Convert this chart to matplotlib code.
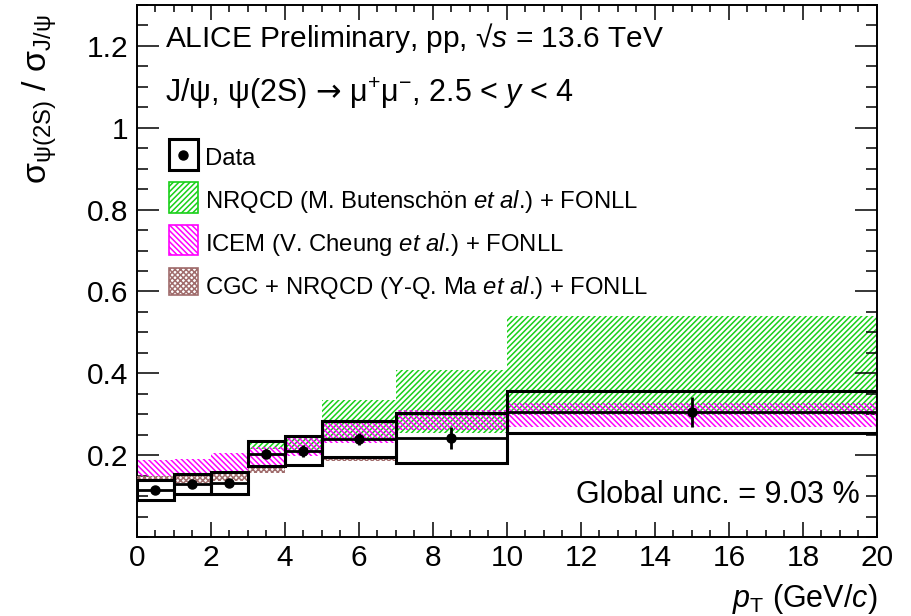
import numpy as np
import matplotlib
matplotlib.use("Agg")
import matplotlib.pyplot as plt
from matplotlib.patches import Rectangle
from matplotlib.lines import Line2D
from matplotlib.ticker import MultipleLocator, FixedLocator, FixedFormatter

plt.rcParams['font.family'] = ['Liberation Sans', 'DejaVu Sans']
plt.rcParams['mathtext.fontset'] = 'custom'
plt.rcParams['mathtext.rm'] = 'Liberation Sans'
plt.rcParams['mathtext.it'] = 'Liberation Sans:italic'
plt.rcParams['mathtext.bf'] = 'Liberation Sans:bold'
plt.rcParams['mathtext.sf'] = 'DejaVu Sans'
plt.rcParams['hatch.linewidth'] = 1.1

# ---------------- data ----------------
bin_lo = [0, 1, 2, 3, 4, 5, 7, 10]
bin_hi = [1, 2, 3, 4, 5, 7, 10, 20]
ratio = [0.115, 0.129, 0.132, 0.204, 0.211, 0.240, 0.242, 0.305]
stat_err = [0.006, 0.006, 0.006, 0.010, 0.015, 0.014, 0.026, 0.036]
syst_err = [0.025, 0.025, 0.026, 0.031, 0.036, 0.044, 0.061, 0.052]

nrqcd_lo_edge = [3, 4, 5, 7, 10]
nrqcd_hi_edge = [4, 5, 7, 10, 20]
nrqcd_low = [0.215, 0.207, 0.238, 0.255, 0.298]
nrqcd_high = [0.236, 0.250, 0.334, 0.409, 0.541]

icem_low = [0.148, 0.152, 0.157, 0.173, 0.197, 0.230, 0.262, 0.270]
icem_high = [0.187, 0.191, 0.205, 0.220, 0.248, 0.285, 0.311, 0.328]

cgc_lo_edge = [0, 1, 2, 3, 4, 5]
cgc_hi_edge = [1, 2, 3, 4, 5, 7]
cgc_low = [0.140, 0.132, 0.138, 0.157, 0.170, 0.185]
cgc_high = [0.150, 0.152, 0.157, 0.172, 0.177, 0.192]

x_ticks = [0, 2, 4, 6, 8, 10, 12, 14, 16, 18, 20]
y_ticks = [0.2, 0.4, 0.6, 0.8, 1.0, 1.2]
y_tick_labels = ['0.2', '0.4', '0.6', '0.8', '1', '1.2']

green = '#18d018'
magenta = '#ff00ff'
brown = '#a06c6c'

W, H = 912, 616
fig = plt.figure(figsize=(W / 100, H / 100), dpi=100)
ax = fig.add_axes([137 / W, 1 - 537 / H, 740 / W, 532 / H])

def fx(px):
    return px / W

def fy(py):
    return 1 - py / H

def band(lo_e, hi_e, low, high, color, hatch, z):
    lo_e = np.array(lo_e, float); hi_e = np.array(hi_e, float)
    low = np.array(low); high = np.array(high)
    ax.bar(lo_e, high - low, width=hi_e - lo_e, bottom=low, align='edge',
           fill=False, hatch=hatch, edgecolor=color, linewidth=0, zorder=z)

band(nrqcd_lo_edge, nrqcd_hi_edge, nrqcd_low, nrqcd_high, green, '//////', 1)
band(bin_lo, bin_hi, icem_low, icem_high, magenta, '\\\\\\\\\\\\', 2)
band(cgc_lo_edge, cgc_hi_edge, cgc_low, cgc_high, brown, 'xxxxxx', 3)

lo = np.array(bin_lo, float); hi = np.array(bin_hi, float)
r = np.array(ratio); st = np.array(stat_err); sy = np.array(syst_err)
cen = 0.5 * (lo + hi)
ax.bar(lo, 2 * sy, width=hi - lo, bottom=r - sy, align='edge', fill=False,
       edgecolor='black', linewidth=2.2, zorder=4)
ax.errorbar(cen, r, xerr=0.5 * (hi - lo), yerr=st, fmt='o', color='black',
            ms=6.5, elinewidth=2.0, capsize=0, zorder=5)

ax.set_xlim(0, 20)
ax.set_ylim(0, 1.3)
ax.xaxis.set_major_locator(FixedLocator(x_ticks))
ax.xaxis.set_minor_locator(MultipleLocator(0.5))
ax.yaxis.set_major_locator(FixedLocator(y_ticks))
ax.yaxis.set_major_formatter(FixedFormatter(y_tick_labels))
ax.yaxis.set_minor_locator(MultipleLocator(0.05))
ax.tick_params(axis='both', which='both', direction='in', top=True, right=True,
               width=1.1, labelsize=21.5)
ax.tick_params(axis='x', which='major', length=11, pad=5)
ax.tick_params(axis='x', which='minor', length=5)
ax.tick_params(axis='y', which='major', length=16, pad=6)
ax.tick_params(axis='y', which='minor', length=8)
for s in ax.spines.values():
    s.set_linewidth(1.4)

# axis titles
fig.text(fx(877), fy(607), r'$p_{\mathrm{T}}$ (GeV/$c$)', ha='right', va='baseline', fontsize=22)
fig.text(fx(40), fy(14), r'σ$_{\mathrm{ψ(2S)}}$ / σ$_{\mathrm{J/ψ}}$', rotation=90,
         ha='center', va='top', fontsize=24.5)

# header texts
fig.text(fx(165), fy(47), r'ALICE Preliminary, pp, √$s$ = 13.6 TeV', ha='left',
         va='baseline', fontsize=21.5)
fig.text(fx(165), fy(102), r'J/ψ, ψ(2S) $\mathsf{→}$ μ$^{+}$μ$^{-}$, 2.5 < $y$ < 4', ha='left',
         va='baseline', fontsize=22)
fig.text(fx(860), fy(503), 'Global unc. = 9.03 %', ha='right', va='baseline', fontsize=22)

# legend (manual)
leg = [
    ('data', None, None, 139, 170, 'Data', 165),
    ('band', green, '//////', 182, 213, r'NRQCD (M. Butenschön $et$ $al$.) + FONLL', 208),
    ('band', magenta, '\\\\\\\\\\\\', 225, 255, r'ICEM (V. Cheung $et$ $al$.) + FONLL', 251),
    ('band', brown, 'xxxxxx', 268, 295, r'CGC + NRQCD (Y-Q. Ma $et$ $al$.) + FONLL', 294),
]
for kind, col, hat, yt, yb, label, base in leg:
    x0, x1 = 169, 198
    if kind == 'data':
        fig.add_artist(Rectangle((fx(x0), fy(yb)), fx(x1) - fx(x0), fy(yt) - fy(yb),
                                 transform=fig.transFigure, fill=False,
                                 edgecolor='black', linewidth=2.2))
        fig.add_artist(Line2D([fx((x0 + x1) / 2)], [fy((yt + yb) / 2)], marker='o',
                              color='black', ms=6.5, transform=fig.transFigure))
    else:
        fig.add_artist(Rectangle((fx(x0), fy(yb)), fx(x1) - fx(x0), fy(yt) - fy(yb),
                                 transform=fig.transFigure, fill=False, hatch=hat,
                                 edgecolor=col, linewidth=1.2))
    fig.text(fx(205), fy(base), label, ha='left', va='baseline', fontsize=17.2)

fig.savefig('out.png', dpi=100)
